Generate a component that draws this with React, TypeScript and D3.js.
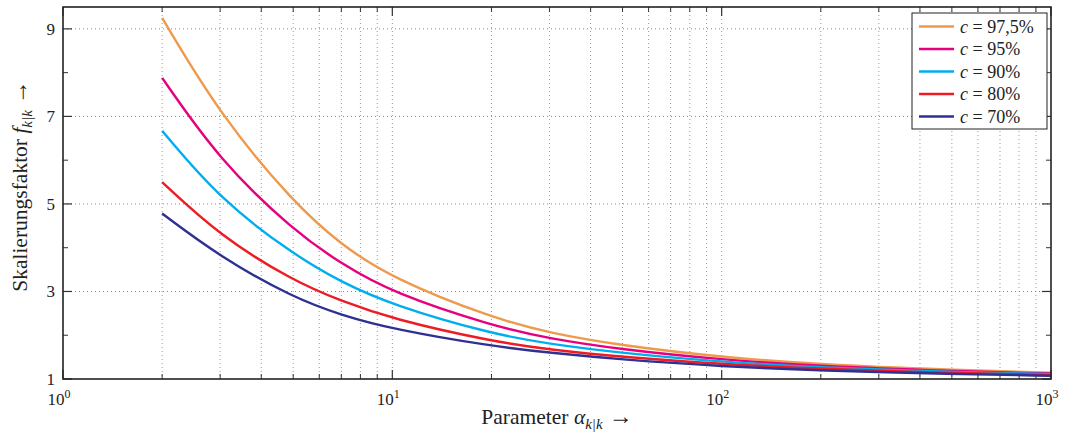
import React from "react";
import * as d3 from "d3";

const alpha = [2, 3, 5, 7, 10, 20, 30, 50, 100, 200, 500, 1000];
const f975 = [9.25, 7.03, 5.04, 4.06, 3.3, 2.4, 2.05, 1.76, 1.5, 1.33, 1.21, 1.145];
const f95 = [7.88, 5.98, 4.4, 3.63, 2.97, 2.22, 1.92, 1.67, 1.44, 1.29, 1.18, 1.125];
const f90 = [6.67, 5.1, 3.85, 3.21, 2.69, 2.03, 1.8, 1.59, 1.39, 1.26, 1.16, 1.11];
const f80 = [5.5, 4.27, 3.24, 2.78, 2.37, 1.86, 1.67, 1.5, 1.34, 1.23, 1.14, 1.09];
const f70 = [4.78, 3.79, 2.86, 2.46, 2.14, 1.75, 1.6, 1.44, 1.29, 1.19, 1.115, 1.075];

const seriesLabels = ["97,5%", "95%", "90%", "80%", "70%"];
const seriesValues = [f975, f95, f90, f80, f70];
const seriesColors = ["#EE9A4D", "#E6007E", "#00AEEF", "#ED1C24", "#2E3192"];

const xMajor = [1, 10, 100, 1000];
const xExp = ["0", "1", "2", "3"];
const yMajor = [1, 3, 5, 7, 9];
const yMinor = [2, 4, 6, 8];

const W = 1065;
const H = 432;
const L = 63, R = 1051, T = 7, B = 379;
const FONT = "'Liberation Serif', 'DejaVu Serif', serif";

export default function App() {
  const x = d3.scaleLog().domain([1, 1000]).range([L, R]);
  const y = d3.scaleLinear().domain([1, 9.5]).range([B, T]);

  const xMinor: number[] = [];
  for (const d of [1, 10, 100]) for (let m = 2; m <= 9; m++) xMinor.push(d * m);

  const line = d3
    .line<number>()
    .x((_, i) => x(alpha[i]))
    .y((v) => y(v))
    .curve(d3.curveBasis);

  return (
    <svg width={W} height={H} style={{ position: "absolute", left: 0, top: 0, background: "#fff" }} fontFamily={FONT}>
      {[...xMinor, 10, 100].map((v) => (
        <line key={"gx" + v} x1={x(v)} x2={x(v)} y1={T} y2={B} stroke="#999" strokeWidth={1} strokeDasharray="1 3" />
      ))}
      {yMajor.filter((v) => v > 1).map((v) => (
        <line key={"gy" + v} x1={L} x2={R} y1={y(v)} y2={y(v)} stroke="#888" strokeWidth={1} strokeDasharray="1 3" />
      ))}
      {xMinor.map((v) => (
        <g key={"tx" + v}>
          <line x1={x(v)} x2={x(v)} y1={B} y2={B - 5} stroke="#333" strokeWidth={1} />
          <line x1={x(v)} x2={x(v)} y1={T} y2={T + 5} stroke="#333" strokeWidth={1} />
        </g>
      ))}
      {xMajor.map((v) => (
        <g key={"tX" + v}>
          <line x1={x(v)} x2={x(v)} y1={B} y2={B - 9} stroke="#333" strokeWidth={1.2} />
          <line x1={x(v)} x2={x(v)} y1={T} y2={T + 9} stroke="#333" strokeWidth={1.2} />
        </g>
      ))}
      {yMinor.map((v) => (
        <g key={"ty" + v}>
          <line x1={L} x2={L + 5} y1={y(v)} y2={y(v)} stroke="#333" strokeWidth={1} />
          <line x1={R} x2={R - 5} y1={y(v)} y2={y(v)} stroke="#333" strokeWidth={1} />
        </g>
      ))}
      {yMajor.map((v) => (
        <g key={"tY" + v}>
          <line x1={L} x2={L + 9} y1={y(v)} y2={y(v)} stroke="#333" strokeWidth={1.2} />
          <line x1={R} x2={R - 9} y1={y(v)} y2={y(v)} stroke="#333" strokeWidth={1.2} />
          <text x={L - 8} y={y(v)} dy="0.35em" textAnchor="end" fontSize={17} fill="#222">
            {v}
          </text>
        </g>
      ))}
      {xMajor.map((v, i) => (
        <text key={"lx" + v} x={x(v) - 4} y={405} textAnchor="middle" fontSize={17} fill="#222">
          10
          <tspan dy={-7} fontSize={12}>
            {xExp[i]}
          </tspan>
        </text>
      ))}
      {seriesValues.map((vals, i) => (
        <path key={"s" + i} d={line(vals) || ""} fill="none" stroke={seriesColors[i]} strokeWidth={2.4} />
      ))}
      <rect x={L} y={T} width={R - L} height={B - T} fill="none" stroke="#222" strokeWidth={1.6} />
      <rect x={912} y={13} width={135} height={116} fill="#fff" stroke="#222" strokeWidth={1} />
      {seriesLabels.map((lab, i) => {
        const ly = 26.5 + i * 22.5;
        return (
          <g key={"lg" + i}>
            <line x1={919} x2={954} y1={ly} y2={ly} stroke={seriesColors[i]} strokeWidth={2.4} />
            <text x={960} y={ly} dy="0.35em" fontSize={18} fill="#222">
              <tspan fontStyle="italic">c</tspan>
              {" = " + lab}
            </text>
          </g>
        );
      })}
      <text x={(L + R) / 2} y={424} textAnchor="middle" fontSize={21.5} fill="#222">
        Parameter <tspan fontStyle="italic">α</tspan>
        <tspan fontStyle="italic" fontSize={15} dy={5}>k|k</tspan>
        <tspan dy={-5} fontSize={24}> →</tspan>
      </text>
      <text transform={`translate(27, ${(T + B) / 2 - 7}) rotate(-90)`} textAnchor="middle" fontSize={21.5} fill="#222">
        Skalierungsfaktor <tspan fontStyle="italic">f</tspan>
        <tspan fontStyle="italic" fontSize={15} dy={5}>k|k</tspan>
        <tspan dy={-5} fontSize={24}> →</tspan>
      </text>
    </svg>
  );
}
